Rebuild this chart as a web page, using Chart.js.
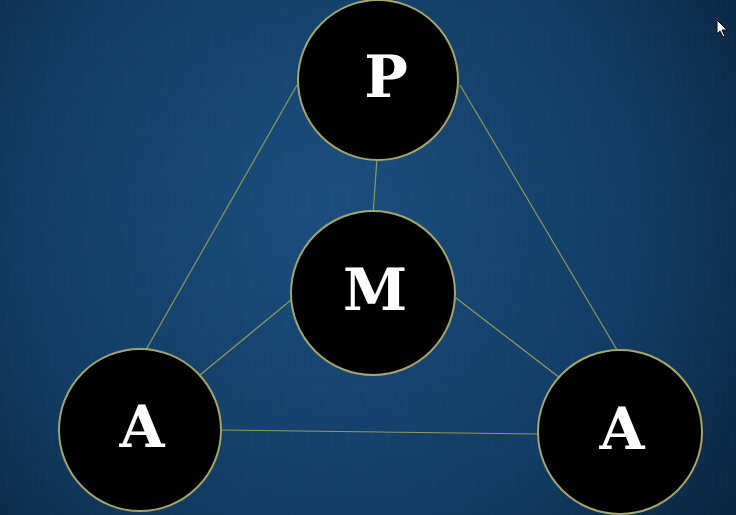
<!DOCTYPE html>
<html><head><meta charset="utf-8">
<script src="https://cdn.jsdelivr.net/npm/chart.js@4"></script>
<style>html,body{margin:0;padding:0;background:#0d2a48;overflow:hidden}</style>
</head><body>
<canvas id="c" width="736" height="515"></canvas>
<script>
// Node labels and positions (diagram coordinates)
const nodeLabels = ["P", "M", "A", "A"];
const nodeX = [378, 373, 140, 620];
const nodeY = [80, 293, 430, 432];
const nodeR = [80, 82, 81, 82];
// Connector segments [x1, y1, x2, y2]
const linkStartX = [297, 460, 377, 200, 456, 222];
const linkStartY = [85, 85, 158, 375, 298, 430];
const linkEndX = [143, 620, 373, 291, 560, 538];
const linkEndY = [355, 355, 215, 300, 378, 434];

const bgPlugin = {
  id: 'bg',
  beforeDraw(chart) {
    const ctx = chart.ctx, w = chart.width, h = chart.height;
    const g = ctx.createRadialGradient(w * 0.45, h * 0.4, 20, w * 0.45, h * 0.45, w * 0.75);
    g.addColorStop(0, '#1b4d7c');
    g.addColorStop(0.55, '#123c64');
    g.addColorStop(1, '#081d33');
    ctx.save();
    ctx.fillStyle = g;
    ctx.fillRect(0, 0, w, h);
    ctx.globalAlpha = 0.035;
    ctx.strokeStyle = '#9cc3e8';
    ctx.lineWidth = 1;
    for (let y = 0; y < h + 40; y += 40) {
      for (let x = (y / 40) % 2 ? 20 : 0; x < w + 40; x += 40) {
        ctx.beginPath();
        ctx.ellipse(x, y, 8, 14, 0, 0, Math.PI * 2);
        ctx.stroke();
      }
    }
    ctx.restore();
  }
};

const labelPlugin = {
  id: 'labels',
  afterDatasetsDraw(chart) {
    const ctx = chart.ctx, xs = chart.scales.x, ys = chart.scales.y;
    ctx.save();
    ctx.fillStyle = '#ffffff';
    ctx.font = 'bold 58px "DejaVu Serif", "Liberation Serif", serif';
    ctx.textAlign = 'center';
    ctx.textBaseline = 'middle';
    nodeLabels.forEach((t, i) => {
      ctx.fillText(t, xs.getPixelForValue(nodeX[i]) + (i === 0 ? 8 : 2), ys.getPixelForValue(nodeY[i]) + 2);
    });
    ctx.fillStyle = '#fff'; ctx.strokeStyle = '#000'; ctx.lineWidth = 1;
    ctx.beginPath();
    ctx.moveTo(717, 20); ctx.lineTo(717, 34); ctx.lineTo(720, 31); ctx.lineTo(723, 37); ctx.lineTo(725, 36); ctx.lineTo(722, 30); ctx.lineTo(727, 30); ctx.closePath();
    ctx.fill(); ctx.stroke();
    ctx.restore();
  }
};

const lineDatasets = linkStartX.map((x1, i) => ({
  type: 'line',
  data: [{x: x1, y: linkStartY[i]}, {x: linkEndX[i], y: linkEndY[i]}],
  borderColor: '#8f9a5c',
  borderWidth: 1.2,
  pointRadius: 0,
  clip: false,
  order: 2
}));

const nodeDataset = {
  type: 'scatter',
  data: nodeX.map((x, i) => ({x, y: nodeY[i]})),
  pointRadius: nodeR,
  pointHoverRadius: nodeR,
  backgroundColor: '#000000',
  borderColor: '#a3a66a',
  borderWidth: 2,
  clip: false,
  order: 1
};

new Chart(document.getElementById('c'), {
  type: 'scatter',
  data: { datasets: [...lineDatasets, nodeDataset] },
  options: {
    responsive: false,
    animation: false,
    devicePixelRatio: 1,
    layout: { padding: 0, autoPadding: false },
    plugins: { legend: { display: false }, tooltip: { enabled: false } },
    scales: {
      x: { type: 'linear', min: 0, max: 736, display: false },
      y: { type: 'linear', min: 0, max: 515, reverse: true, display: false }
    }
  },
  plugins: [bgPlugin, labelPlugin]
});
</script>
</body></html>
